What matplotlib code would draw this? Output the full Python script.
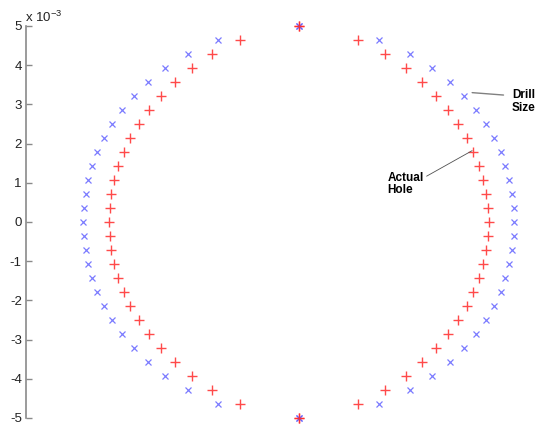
import matplotlib
matplotlib.use("Agg")
import matplotlib.pyplot as plt

plt.rcParams['font.family'] = ['Liberation Sans', 'DejaVu Sans']
plt.rcParams['axes.unicode_minus'] = False
plt.rcParams['mathtext.default'] = 'regular'

# Sample rows (units of 1e-3), top to bottom
y_levels = [5.0, 4.64, 4.29, 3.93, 3.57, 3.21, 2.86, 2.5, 2.14, 1.79, 1.43, 1.07, 0.71, 0.36,
            0.0, -0.36, -0.71, -1.07, -1.43, -1.79, -2.14, -2.5, -2.86, -3.21, -3.57, -3.93,
            -4.29, -4.64, -5.0]

# Half width of the drill circle at each row
drill_half = [0.0, 1.86, 2.57, 3.09, 3.50, 3.82, 4.10, 4.33, 4.52, 4.68, 4.79, 4.88, 4.94, 4.98,
              5.0, 4.98, 4.94, 4.88, 4.79, 4.68, 4.52, 4.33, 4.10, 3.82, 3.50, 3.09,
              2.57, 1.86, 0.0]

# Half width of the measured hole at each row
hole_half = [0.0, 1.37, 2.01, 2.48, 2.86, 3.19, 3.46, 3.69, 3.90, 4.04, 4.18, 4.28, 4.34, 4.38,
             4.40, 4.38, 4.34, 4.28, 4.18, 4.04, 3.90, 3.69, 3.46, 3.19, 2.86, 2.48,
             2.01, 1.37, 0.0]

fig = plt.figure(figsize=(5.36, 4.25), dpi=100)
ax = fig.add_axes([26 / 536, 7 / 425, 510 / 536, 392 / 425])

for side in (1, -1):
    ax.plot([side * w for w in drill_half], y_levels, 'x', color='#5a5aff',
            markersize=5, markeredgewidth=0.9, clip_on=False, alpha=0.8)
    ax.plot([side * w for w in hole_half], y_levels, '+', color='#ff2a2a',
            markersize=7, markeredgewidth=1.0, clip_on=False, alpha=0.85)

ax.set_xlim(-6.32, 5.50)
ax.set_ylim(-5, 5)
ax.set_yticks(range(-5, 6))
ax.set_xticks([])

for s in ('top', 'right', 'bottom'):
    ax.spines[s].set_visible(False)
ax.spines['left'].set_color('#8a8a8a')
ax.spines['left'].set_linewidth(1.2)
ax.tick_params(axis='y', direction='in', length=4, width=1, color='#8a8a8a',
               labelsize=9.5, pad=3, labelcolor='#222222')

ax.annotate('x 10$^{-3}$', xy=(0, 1), xycoords='axes fraction', xytext=(-1, 4),
            textcoords='offset pixels', fontsize=9.5, color='#222222',
            ha='left', va='baseline')

# Callouts
ax.annotate('Drill\nSize', xy=(4.02, 3.30), xytext=(4.94, 3.07), fontsize=8.5,
            fontweight='bold', ha='left', va='center', linespacing=1.1,
            arrowprops=dict(arrowstyle='-', color='#808080', lw=1.0,
                            shrinkA=4, shrinkB=0, relpos=(0.0, 0.74)))
ax.annotate('Actual\nHole', xy=(4.02, 1.82), xytext=(2.06, 0.97), fontsize=8.5,
            fontweight='bold', ha='left', va='center', linespacing=1.1,
            arrowprops=dict(arrowstyle='-', color='#505050', lw=0.6,
                            shrinkA=0, shrinkB=0, relpos=(1.0, 0.75)))

fig.savefig('out.png', dpi=100)
